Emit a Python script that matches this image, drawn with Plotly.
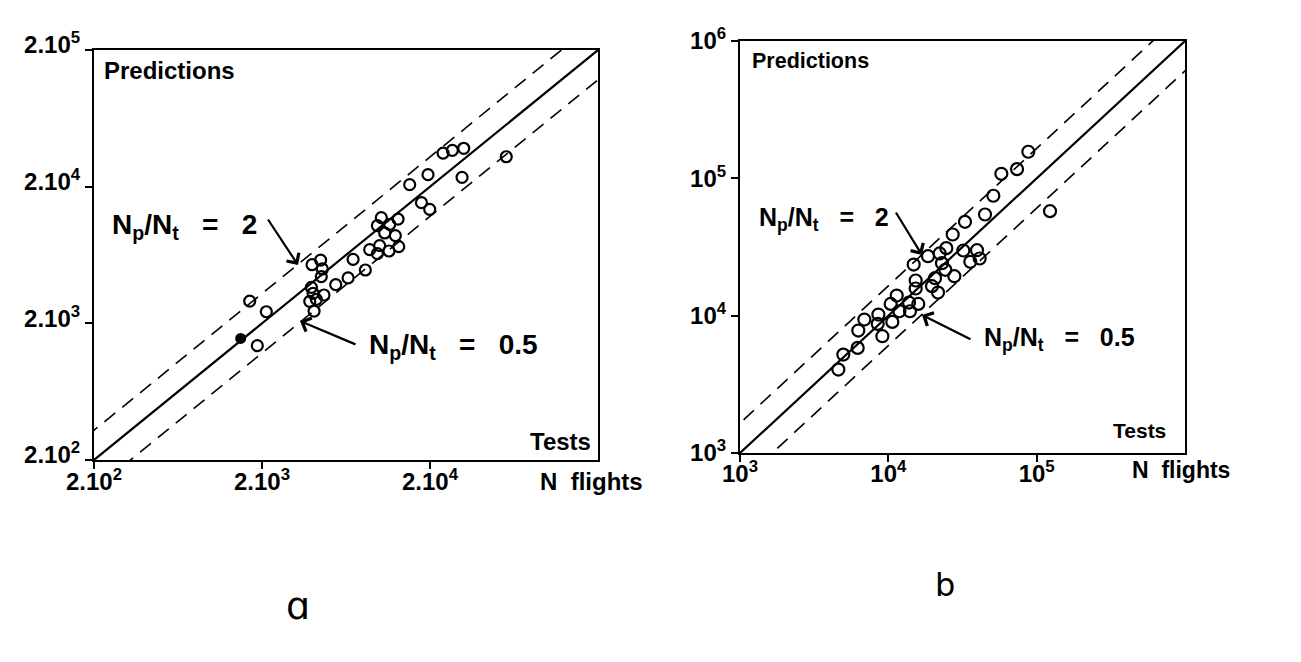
import math
import plotly.graph_objects as go

# ---------------- data ----------------
# Panel a : tests vs predictions (N flights)
a_tests = [1690, 2122, 3972, 4467, 4571, 4508, 3936, 4027, 3848, 4215, 4677, 4083,
           5494, 6508, 6970, 8245, 8750, 9723, 10030, 10260, 9723, 11510, 12910,
           10750, 12440, 13030, 11400, 17790, 19920, 15140, 19460, 23920, 27170,
           31750, 31030, 56880, 1875]
a_pred = [2911, 2431, 5370, 5807, 4998, 4395, 3666, 3318, 2897, 2998, 3224, 2460,
          3837, 4297, 5876, 4911, 6918, 6468, 7406, 11870, 10370, 10600, 11590,
          9169, 8766, 7278, 6768, 15270, 13650, 20690, 24490, 35240, 36880,
          38180, 23390, 33110, 1373]
a_filled_tests = [1493]
a_filled_pred = [1552]

# Panel b
b_tests = [4603, 4972, 6212, 6275, 6891, 8570, 8479, 9116, 10640, 10370, 11390,
           11870, 13780, 13990, 15920, 15290, 15290, 14820, 18510, 19700, 20640,
           21620, 22190, 23000, 24600, 24220, 27860, 27150, 32040, 32860, 35700,
           39620, 41290, 44850, 51040, 57790, 73720, 87860, 123000]
b_pred = [4050, 5207, 5826, 7794, 9370, 10190, 8715, 7086, 9009, 12180, 14010,
          10770, 12460, 10770, 12180, 15770, 18030, 23570, 27110, 16400, 18740,
          14740, 28370, 24110, 31030, 21560, 19380, 39010, 29820, 48220, 24660,
          29970, 26080, 54540, 74650, 107900, 116700, 156200, 57680]

# axis ranges / ticks
a_range = [200, 200000]
a_ticks = [200, 2000, 20000, 200000]
a_ticktext = ["2.10<sup>2</sup>", "2.10<sup>3</sup>", "2.10<sup>4</sup>", "2.10<sup>5</sup>"]
b_range = [1000, 1000000]
b_ticks = [1000, 10000, 100000, 1000000]
b_ticktext = ["10<sup>3</sup>", "10<sup>4</sup>", "10<sup>5</sup>", "10<sup>6</sup>"]

band_ratio = 1.65   # dashed band as drawn in the picture (labelled Np/Nt = 2 and 0.5)

# ---------------- figure ----------------
W, H = 1301, 662
FONT = "Liberation Sans"
DX, DY = -3, 0


def px(x):
    return (x + DX) / W


def py(y):
    return 1 - (y + DY) / H


fig = go.Figure()


def add_lines(xa, ya, rng):
    lo, hi = rng[0] / 10, rng[1] * 10
    fig.add_trace(go.Scatter(x=[lo, hi], y=[lo, hi], mode="lines", xaxis=xa, yaxis=ya,
                             line=dict(color="black", width=2.2), showlegend=False, hoverinfo="skip"))
    for r in (band_ratio, 1 / band_ratio):
        fig.add_trace(go.Scatter(x=[lo, hi], y=[lo * r, hi * r], mode="lines",
                                 xaxis=xa, yaxis=ya,
                                 line=dict(color="black", width=1.6, dash="14px,9px"),
                                 showlegend=False, hoverinfo="skip"))


add_lines("x", "y", a_range)
add_lines("x2", "y2", b_range)

fig.add_trace(go.Scatter(x=a_tests, y=a_pred, mode="markers", xaxis="x", yaxis="y",
                         marker=dict(symbol="circle-open", size=11, color="black",
                                     line=dict(width=2.2, color="black")),
                         showlegend=False))
fig.add_trace(go.Scatter(x=a_filled_tests, y=a_filled_pred, mode="markers", xaxis="x", yaxis="y",
                         marker=dict(symbol="circle", size=11, color="black"),
                         showlegend=False))
fig.add_trace(go.Scatter(x=b_tests, y=b_pred, mode="markers", xaxis="x2", yaxis="y2",
                         marker=dict(symbol="circle-open", size=12, color="black",
                                     line=dict(width=2.2, color="black")),
                         showlegend=False))

tickfont = dict(family=FONT, size=24, color="black", weight="bold")
axis_common = dict(type="log", showgrid=False, zeroline=False, showline=True,
                   linecolor="black", linewidth=2.2, mirror=True, ticks="outside",
                   ticklen=7, tickwidth=1.6, tickcolor="black", tickfont=tickfont,
                   automargin=False)

fig.update_layout(
    width=W, height=H, margin=dict(l=0, r=0, t=0, b=0, autoexpand=False),
    paper_bgcolor="white", plot_bgcolor="white", showlegend=False,
    xaxis=dict(axis_common, domain=[px(89), px(593)],
               range=[math.log10(a_range[0]), math.log10(a_range[1])],
               tickvals=a_ticks[:3], ticktext=a_ticktext[:3], anchor="y",
               ticklabelstandoff=-8),
    yaxis=dict(axis_common, domain=[py(452), py(42)],
               range=[math.log10(a_range[0]), math.log10(a_range[1])],
               tickvals=a_ticks, ticktext=a_ticktext, anchor="x",
               ticklabelshift=-5),
    xaxis2=dict(axis_common, domain=[px(735), px(1180)],
                range=[math.log10(b_range[0]), math.log10(b_range[1])],
                tickvals=b_ticks[:3], ticktext=b_ticktext[:3], anchor="y2",
                ticklabelstandoff=-9),
    yaxis2=dict(axis_common, domain=[py(445), py(33)],
                range=[math.log10(b_range[0]), math.log10(b_range[1])],
                tickvals=b_ticks, ticktext=b_ticktext, anchor="x2"),
)


def text(x, y, s, size, xanchor="left", bold=True, family=FONT):
    fig.add_annotation(x=px(x), y=py(y), xref="paper", yref="paper", text=s,
                       showarrow=False, xanchor=xanchor, yanchor="middle",
                       font=dict(family=family, size=size, color="black",
                                 weight="bold" if bold else "normal"))


def arrow(tx, ty, hx, hy):
    fig.add_annotation(x=px(hx), y=py(hy), xref="paper", yref="paper", text="",
                       showarrow=True, ax=tx - hx, ay=ty - hy, axref="pixel", ayref="pixel",
                       arrowhead=4, arrowsize=1.3, arrowwidth=2.2, arrowcolor="black",
                       standoff=0, startstandoff=0)


NB = "\u00a0"
lab2 = "N<sub>p</sub>/N<sub>t</sub>" + NB * 3 + "=" + NB * 3 + "2"
lab05 = "N<sub>p</sub>/N<sub>t</sub>" + NB * 3 + "=" + NB * 3 + "0.5"

# panel a texts
text(97, 62, "Predictions", 24)
text(588, 433, "Tests", 24, xanchor="right")
text(533, 473, "N" + NB * 2 + "flights", 24)
text(105, 218, lab2, 28)
text(362, 338, lab05, 28)
arrow(262, 210, 293, 257)
arrow(352, 337, 295, 313)

# panel b texts
text(745, 53, "Predictions", 21.5)
text(1163, 423, "Tests", 21, xanchor="right")
text(1125, 462, "N" + NB * 2 + "flights", 23)
text(752, 211, lab2, 25)
text(977, 331, lab05, 25)
arrow(890, 203, 917, 247)
arrow(967, 332, 917, 307)

# panel letters
text(293, 598, "\u0251", 38, xanchor="center", bold=False, family="DejaVu Sans")
text(940, 577, "b", 32, xanchor="center", bold=False, family="DejaVu Sans")

fig.write_html("out.html")
